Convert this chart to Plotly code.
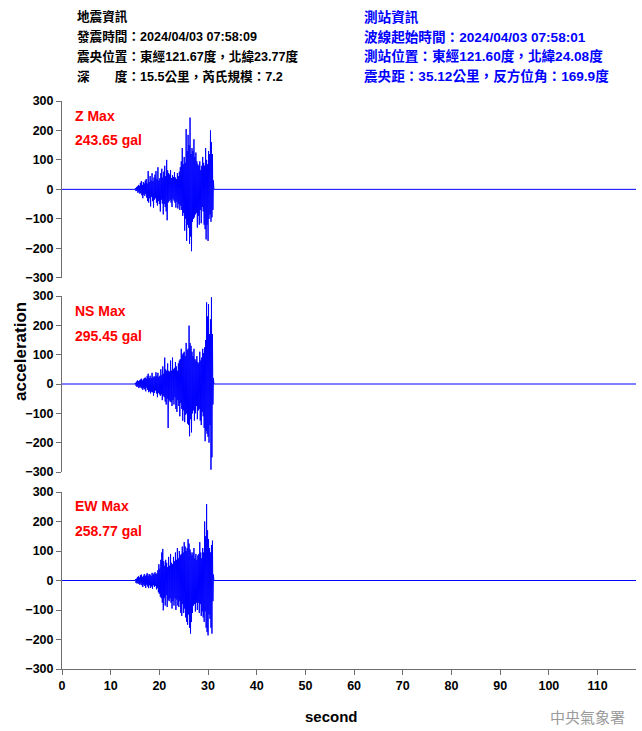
import plotly.graph_objects as go
from plotly.subplots import make_subplots

# ---------------- data ----------------
T_START = 15.0      # first sample of the shaking, seconds
DT = 0.1            # sample spacing of the typed values, seconds
X_MAX = 117.9       # right end of the time axis

Z_VALUES = [
    0, 4, -6, 8, -5, 10, -12, 15, -8, 12,
    -15, 22, -12, 28, -20, 15, -30, 25, -18, 20,
    -22, 30, -15, 35, -28, 20, -40, 62, -45, 25,
    -30, 45, -58, 30, -25, 55, -40, 28, -62, 40,
    -35, 50, -30, 62, -45, 35, -55, 75, -40, 30,
    -50, 38, -75, 55, -35, 70, -48, 40, -85, 60,
    -50, 80, -60, 45, -75, 100, -105, 65, -45, 55,
    -40, 50, -35, 65, -45, 38, -60, 48, -32, 42,
    -38, 58, -45, 40, -62, 35, -42, 55, -65, 45,
    -50, 60, -70, 75, -55, 95, -70, 140, -90, 85,
    -80, 110, -140, 90, -100, 205, -175, 130, -120, 185,
    -130, 150, -185, 243.65, -160, 120, -210, 140, -110, 130,
    -100, 170, -95, 110, -85, 125, -80, 95, -130, 85,
    -90, 80, -120, 95, -70, 65, -115, 80, -60, 110,
    -75, 90, -120, 80, -135, 140, -170, 100, -120, 85,
    -175, 130, -100, 120, -85, 200, -110, 160, -95, 120,
    -70, 30, 0,
]

NS_VALUES = [
    0, 4, -6, 8, -10, 12, -8, 10, -14, 12,
    -10, 15, -12, 18, -15, 12, -20, 16, -14, 20,
    -18, 22, -25, 18, -12, 28, -20, 35, -28, 20,
    -25, 28, -32, 20, -26, 38, -28, 22, -40, 26,
    -30, 25, -22, 40, -32, 28, -45, 38, -30, 24,
    -35, 28, -40, 50, -35, 30, -55, 60, -40, 35,
    -45, 90, -60, 50, -70, 45, -50, 70, -150, 45,
    -55, 42, -60, 80, -62, 45, -75, 90, -55, 50,
    -70, 55, -45, 75, -85, 60, -95, 45, -55, 70,
    -75, 80, -110, 85, -65, 120, -85, 100, -125, 105,
    -90, 110, -130, 95, -105, 140, -100, 115, -135, 120,
    -140, 199, -178, 140, -120, 130, -165, 110, -100, 95,
    -90, 120, -125, 85, -100, 80, -75, 95, -120, 75,
    -90, 70, -85, 110, -125, 80, -140, 90, -95, 120,
    -110, 105, -150, 125, -195, 150, -160, 278, -170, 230,
    -180, 272, -200, 170, -140, 220, -292, 295.45, -250, 170,
    -70, 20, 0,
]

EW_VALUES = [
    0, 5, -8, 6, -10, 12, -9, 14, -12, 10,
    -15, 18, -10, 20, -16, 12, -22, 16, -14, 22,
    -18, 15, -25, 20, -14, 25, -20, 16, -26, 22,
    -16, 20, -25, 15, -20, 26, -28, 20, -16, 24,
    -22, 28, -18, 22, -30, 24, -26, 35, -40, 55,
    -45, 40, -55, 70, -60, 95, -75, 107, -101, 65,
    -60, 50, -85, 70, -50, 60, -90, 45, -65, 80,
    -70, 50, -60, 90, -75, 60, -95, 55, -70, 80,
    -85, 65, -60, 95, -100, 70, -65, 110, -85, 75,
    -90, 100, -70, 85, -110, 90, -120, 115, -80, 95,
    -110, 130, -95, 115, -125, 100, -140, 110, -150, 140,
    -115, 125, -160, 105, -180, 95, -140, 85, -110, 95,
    -85, 110, -80, 75, -105, 90, -75, 70, -100, 85,
    -75, 90, -110, 130, -80, 95, -120, 75, -105, 110,
    -125, 95, -140, 200, -105, 150, -160, 258.77, -175, 170,
    -186, 140, -115, 110, -130, 95, -160, 120, -180, 135,
    -70, 20, 0,
]

COMPONENTS = ["Z", "NS", "EW"]
PEAKS = ["243.65", "295.45", "258.77"]
SERIES = [Z_VALUES, NS_VALUES, EW_VALUES]
Y_TICKS = [-300, -200, -100, 0, 100, 200, 300]
X_TICKS = [0, 10, 20, 30, 40, 50, 60, 70, 80, 90, 100, 110]

QUAKE_INFO = [
    "地震資訊",
    "發震時間：2024/04/03 07:58:09",
    "震央位置：東經121.67度，北緯23.77度",
    "深\u3000\u3000度：15.5公里，芮氏規模：7.2",
]
STATION_INFO = [
    "測站資訊",
    "波線起始時間：2024/04/03 07:58:01",
    "測站位置：東經121.60度，北緯24.08度",
    "震央距：35.12公里，反方位角：169.9度",
]

# ---------------- figure ----------------
W, H = 642, 731
ML, MR, MT, MB = 62, 6, 101, 62
PW, PH = W - ML - MR, H - MT - MB


def px_x(p):
    return (p - ML) / PW


def px_y(p):
    return (H - MB - p) / PH


LATIN = "Liberation Sans, Arial, sans-serif"
MIXED = "Liberation Sans, Noto Sans CJK TC, sans-serif"
AXIS_COLOR = "#6e6e6e"

fig = make_subplots(rows=3, cols=1, shared_xaxes=True, vertical_spacing=0.03)

for i, vals in enumerate(SERIES):
    xs = [0.0] + [round(T_START + DT * k, 3) for k in range(len(vals))] + [X_MAX]
    ys = [0] + list(vals) + [0]
    fig.add_trace(
        go.Scatter(x=xs, y=ys, mode="lines",
                   line=dict(color="#0000FF", width=1),
                   hoverinfo="skip", showlegend=False),
        row=i + 1, col=1,
    )

# panel pixel extents (top, bottom)
PANELS = [(101, 277.7), (296, 472), (492, 669)]

for i, (top, bot) in enumerate(PANELS):
    n = "" if i == 0 else str(i + 1)
    fig.layout["yaxis" + n].update(
        domain=[px_y(bot), px_y(top)],
        range=[-300, 300], tickvals=Y_TICKS, ticks="outside", ticklen=5,
        tickcolor=AXIS_COLOR, showline=True, linecolor=AXIS_COLOR, linewidth=1,
        showgrid=False, zeroline=False,
        tickfont=dict(family=LATIN, size=12.5, color="black", weight="bold"),
    )
    last = i == 2
    fig.layout["xaxis" + n].update(
        range=[0, X_MAX], showgrid=False, zeroline=False,
        showline=last, linecolor=AXIS_COLOR, linewidth=1,
        ticks="outside" if last else "", ticklen=5, tickcolor=AXIS_COLOR,
        tickvals=X_TICKS, showticklabels=last,
        tickfont=dict(family=LATIN, size=12.5, color="black", weight="bold"),
    )

annotations = []
label_rows = [(116, 140), (311, 336), (506, 531)]
for comp, peak, (y1, y2) in zip(COMPONENTS, PEAKS, label_rows):
    annotations.append(dict(text=f"{comp} Max", x=px_x(73), y=px_y(y1),
                            xref="paper", yref="paper", xanchor="left", yanchor="middle",
                            showarrow=False,
                            font=dict(family=LATIN, size=14, color="#FF0000", weight="bold")))
    annotations.append(dict(text=f"{peak} gal", x=px_x(73), y=px_y(y2),
                            xref="paper", yref="paper", xanchor="left", yanchor="middle",
                            showarrow=False,
                            font=dict(family=LATIN, size=14, color="#FF0000", weight="bold")))

header_y = [17, 37, 56, 76]
for txt, yy in zip(QUAKE_INFO, header_y):
    annotations.append(dict(text=txt, x=px_x(75), y=px_y(yy), xref="paper", yref="paper",
                            xanchor="left", yanchor="middle", showarrow=False,
                            font=dict(family=MIXED, size=12.6, color="black", weight="bold")))
for txt, yy in zip(STATION_INFO, header_y):
    annotations.append(dict(text=txt, x=px_x(362), y=px_y(yy), xref="paper", yref="paper",
                            xanchor="left", yanchor="middle", showarrow=False,
                            font=dict(family=MIXED, size=13.6, color="#0000FF", weight="bold")))

annotations.append(dict(text="acceleration", x=px_x(20), y=px_y(352), xref="paper", yref="paper",
                        xanchor="center", yanchor="middle", textangle=-90, showarrow=False,
                        font=dict(family=LATIN, size=17, color="black", weight="bold")))
annotations.append(dict(text="second", x=px_x(331), y=px_y(717), xref="paper", yref="paper",
                        xanchor="center", yanchor="middle", showarrow=False,
                        font=dict(family=LATIN, size=15, color="black", weight="bold")))
annotations.append(dict(text="中央氣象署", x=px_x(587), y=px_y(717), xref="paper", yref="paper",
                        xanchor="center", yanchor="middle", showarrow=False,
                        font=dict(family="Noto Sans CJK TC, sans-serif", size=15, color="#9a9a9a")))

fig.update_layout(
    width=W, height=H,
    margin=dict(l=ML, r=MR, t=MT, b=MB),
    plot_bgcolor="white", paper_bgcolor="white",
    showlegend=False,
    annotations=annotations,
)

fig.write_html("out.html", config={"displayModeBar": False})
